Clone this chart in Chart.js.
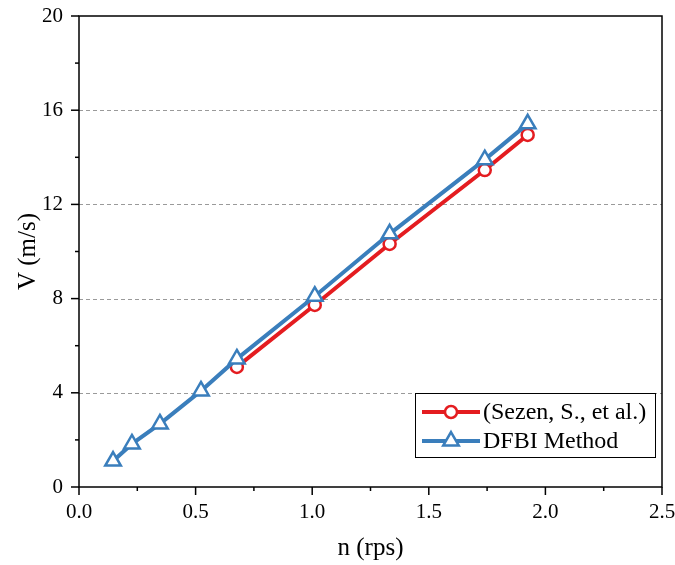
<!DOCTYPE html>
<html>
<head>
<meta charset="utf-8">
<script src="https://cdn.jsdelivr.net/npm/chart.js@4/dist/chart.umd.min.js"></script>
<style>
  html, body { margin: 0; padding: 0; background: #ffffff; }
  #wrap { width: 675px; height: 565px; }
</style>
</head>
<body>
<div id="wrap"><canvas id="c" width="675" height="565"></canvas></div>
<script>
// ---- Data ----
const dfbiN = [0.146, 0.227, 0.347, 0.523, 0.677, 1.011, 1.332, 1.74, 1.924];
const dfbiV = [1.10, 1.83, 2.68, 4.08, 5.44, 8.10, 10.75, 13.90, 15.42];
const sezenN = [0.677, 1.011, 1.332, 1.74, 1.924];
const sezenV = [5.10, 7.73, 10.32, 13.46, 14.95];
const seriesNames = ['(Sezen, S., et al.)', 'DFBI Method'];
const xTicks = [0, 0.5, 1.0, 1.5, 2.0, 2.5];
const xMinorTicks = [0.25, 0.75, 1.25, 1.75, 2.25];
const yTicks = [0, 4, 8, 12, 16, 20];
const yMinorTicks = [2, 6, 10, 14, 18];
const xTitle = 'n (rps)';
const yTitle = 'V (m/s)';

const RED = 'rgb(228,28,32)';
const BLUE = 'rgb(58,126,188)';
const SERIF = '"Liberation Serif", "Times New Roman", serif';

const toPts = (xs, ys) => xs.map((x, i) => ({x: x, y: ys[i]}));

const framePlugin = {
  id: 'frame',
  beforeDatasetsDraw(chart) {
    const {ctx, chartArea: a, scales: {x, y}} = chart;
    ctx.save();
    // dashed grid lines (inner majors only)
    ctx.strokeStyle = '#9a9a9a';
    ctx.lineWidth = 1;
    ctx.setLineDash([4, 3]);
    yTicks.forEach(v => {
      if (v === y.min || v === y.max) return;
      const py = Math.round(y.getPixelForValue(v)) + 0.5;
      ctx.beginPath(); ctx.moveTo(a.left, py); ctx.lineTo(a.right, py); ctx.stroke();
    });
    ctx.setLineDash([]);
    // tick marks
    ctx.strokeStyle = '#000';
    ctx.lineWidth = 1.5;
    const xt = (list, len) => list.forEach(v => {
      const px = x.getPixelForValue(v);
      ctx.beginPath(); ctx.moveTo(px, a.bottom); ctx.lineTo(px, a.bottom + len); ctx.stroke();
    });
    const yt = (list, len) => list.forEach(v => {
      const py = y.getPixelForValue(v);
      ctx.beginPath(); ctx.moveTo(a.left, py); ctx.lineTo(a.left - len, py); ctx.stroke();
    });
    xt(xTicks, 8); xt(xMinorTicks, 4);
    yt(yTicks, 8); yt(yMinorTicks, 4);
    // frame
    ctx.strokeRect(a.left, a.top, a.right - a.left, a.bottom - a.top);
    ctx.restore();
  },
  afterDraw(chart) {
    const {ctx, chartArea: a} = chart;
    const bx = a.right - 247, by = a.bottom - 94, bw = 240, bh = 64;
    ctx.save();
    ctx.fillStyle = '#fff';
    ctx.fillRect(bx, by, bw, bh);
    ctx.strokeStyle = '#000';
    ctx.lineWidth = 1;
    ctx.strokeRect(bx + 0.5, by + 0.5, bw, bh);
    const rows = [chart.data.datasets[0], chart.data.datasets[1]];
    rows.forEach((ds, i) => {
      const cy = by + 19 + i * 29;
      const x0 = bx + 7, x1 = bx + 65, mx = (x0 + x1) / 2;
      ctx.strokeStyle = ds.borderColor;
      ctx.lineWidth = 4;
      ctx.beginPath(); ctx.moveTo(x0, cy); ctx.lineTo(x1, cy); ctx.stroke();
      ctx.fillStyle = '#fff';
      ctx.strokeStyle = ds.borderColor;
      ctx.lineWidth = ds.pointBorderWidth;
      ctx.beginPath();
      if (ds.pointStyle === 'circle') {
        ctx.arc(mx, cy, ds.pointRadius, 0, Math.PI * 2);
      } else {
        const r = ds.pointRadius;
        for (let k = 0; k < 3; k++) {
          const ang = k * 2 * Math.PI / 3;
          const px = mx + Math.sin(ang) * r, py = cy - Math.cos(ang) * r;
          if (k === 0) ctx.moveTo(px, py); else ctx.lineTo(px, py);
        }
        ctx.closePath();
      }
      ctx.fill(); ctx.stroke();
      ctx.fillStyle = '#000';
      ctx.font = '24px ' + SERIF;
      ctx.textBaseline = 'middle';
      ctx.textAlign = 'left';
      ctx.fillText(ds.label, x1 + 3, cy + 1);
    });
    ctx.restore();
  }
};

const noPad = s => { s.paddingTop = 0; s.paddingBottom = 0; s.paddingLeft = 0; s.paddingRight = 0; };

new Chart(document.getElementById('c'), {
  type: 'scatter',
  data: {
    datasets: [
      {
        label: seriesNames[0],
        data: toPts(sezenN, sezenV),
        showLine: true,
        borderColor: RED,
        backgroundColor: '#fff',
        borderWidth: 4,
        pointStyle: 'circle',
        pointRadius: 6,
        pointBorderWidth: 2.5,
        pointBackgroundColor: '#fff',
        pointBorderColor: RED,
        order: 2
      },
      {
        label: seriesNames[1],
        data: toPts(dfbiN, dfbiV),
        showLine: true,
        borderColor: BLUE,
        backgroundColor: '#fff',
        borderWidth: 4,
        pointStyle: 'triangle',
        pointRadius: 9,
        pointBorderWidth: 2.5,
        pointBackgroundColor: '#fff',
        pointBorderColor: BLUE,
        order: 1
      }
    ]
  },
  options: {
    responsive: false,
    animation: false,
    devicePixelRatio: 1,
    layout: { padding: { top: 16, right: 13, left: 0, bottom: 0 } },
    plugins: { legend: { display: false }, tooltip: { enabled: false } },
    scales: {
      x: {
        type: 'linear', min: 0, max: 2.5,
        afterBuildTicks: s => { s.ticks = xTicks.map(v => ({value: v})); },
        afterFit: s => { s.height = 78; noPad(s); },
        grid: { display: false, drawTicks: false },
        border: { display: false },
        ticks: {
          padding: 13, color: '#000', maxRotation: 0, autoSkip: false,
          font: { family: SERIF, size: 21 },
          callback: v => Number(v).toFixed(1)
        },
        title: {
          display: true, text: xTitle, color: '#000',
          font: { family: SERIF, size: 25 },
          padding: { top: 0, bottom: 2 }
        }
      },
      y: {
        type: 'linear', min: 0, max: 20,
        afterBuildTicks: s => { s.ticks = yTicks.map(v => ({value: v})); },
        afterFit: s => { s.width = 79; noPad(s); },
        grid: { display: false, drawTicks: false },
        border: { display: false },
        ticks: {
          padding: 16, color: '#000', autoSkip: false,
          font: { family: SERIF, size: 21 },
          callback: v => String(v)
        },
        title: {
          display: true, text: yTitle, color: '#000',
          font: { family: SERIF, size: 25 },
          padding: { top: 13, bottom: 0 }
        }
      }
    }
  },
  plugins: [framePlugin]
});
</script>
</body>
</html>
